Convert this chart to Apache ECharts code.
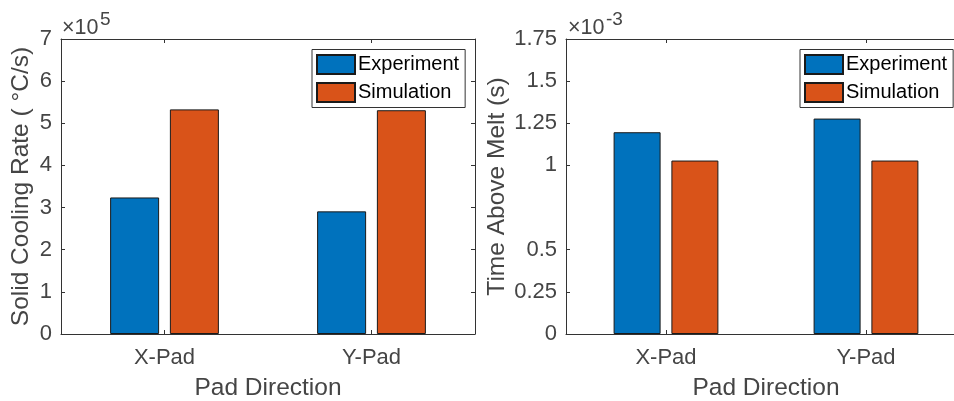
<!DOCTYPE html>
<html>
<head>
<meta charset="utf-8">
<title>Pad direction comparison</title>
<script src="https://cdn.jsdelivr.net/npm/echarts@6/dist/echarts.min.js"></script>
<style>
  html, body { margin: 0; padding: 0; background: #ffffff; }
  #chart { width: 954px; height: 401px; }
</style>
</head>
<body>
<div id="chart"></div>
<script>
// Pad directions on the x axis
const categories = ['X-Pad', 'Y-Pad'];
const seriesNames = ['Experiment', 'Simulation'];

// Solid cooling rate, in units of 1e5 °C/s
const coolingExperiment = [3.24, 2.91];
const coolingSimulation = [5.33, 5.31];
const coolingTicks = [0, 1, 2, 3, 4, 5, 6, 7];

// Time above melt, in units of 1e-3 s
const meltExperiment = [1.197, 1.278];
const meltSimulation = [1.029, 1.029];
const meltTicks = [0, 0.25, 0.5, 1, 1.25, 1.5, 1.75];

const FONT = '"Liberation Sans", Arial, Helvetica, sans-serif';
const AXIS_COLOR = '#333333';
const TEXT_COLOR = '#454545';
const BLUE = '#0072BD';
const ORANGE = '#D95319';

function fmtTick(v) {
  return String(+v.toFixed(2));
}

function bottomAxis(gridIndex) {
  return {
    type: 'category',
    gridIndex: gridIndex,
    position: 'bottom',
    data: categories,
    name: 'Pad Direction',
    nameLocation: 'middle',
    nameGap: 42,
    nameTextStyle: { fontFamily: FONT, fontSize: 24.5, color: TEXT_COLOR },
    axisLine: { show: true, onZero: false, lineStyle: { color: AXIS_COLOR, width: 1 } },
    axisTick: { show: true, inside: true, alignWithLabel: true, length: 4, lineStyle: { color: AXIS_COLOR } },
    axisLabel: { fontFamily: FONT, fontSize: 22, color: TEXT_COLOR, margin: 13 },
    splitLine: { show: false }
  };
}

function topAxis(gridIndex) {
  return {
    type: 'category',
    gridIndex: gridIndex,
    position: 'top',
    data: categories,
    axisLine: { show: true, onZero: false, lineStyle: { color: AXIS_COLOR, width: 1 } },
    axisTick: { show: true, inside: true, alignWithLabel: true, length: 4, lineStyle: { color: AXIS_COLOR } },
    axisLabel: { show: false },
    splitLine: { show: false }
  };
}

function valueAxis(gridIndex, position, ticks, max, interval, name, nameGap) {
  const ax = {
    type: 'value',
    gridIndex: gridIndex,
    position: position,
    min: 0,
    max: max,
    interval: interval,
    axisLine: { show: true, onZero: false, lineStyle: { color: AXIS_COLOR, width: 1 } },
    axisTick: { show: true, inside: true, length: 4, lineStyle: { color: AXIS_COLOR }, customValues: ticks },
    axisLabel: {
      show: position === 'left',
      fontFamily: FONT, fontSize: 22, color: TEXT_COLOR, margin: 9,
      customValues: ticks,
      formatter: fmtTick
    },
    splitLine: { show: false }
  };
  if (name) {
    ax.name = name;
    ax.nameLocation = 'middle';
    ax.nameGap = nameGap;
    ax.nameTextStyle = { fontFamily: FONT, fontSize: 24.5, color: TEXT_COLOR };
  }
  return ax;
}

function barSeries(name, color, xIdx, yIdx, data, width, gap) {
  return {
    name: name,
    type: 'bar',
    xAxisIndex: xIdx,
    yAxisIndex: yIdx,
    data: data,
    barWidth: width,
    barGap: gap,
    itemStyle: { color: color, borderColor: '#1a1a1a', borderWidth: 1 },
    emphasis: { disabled: true },
    animation: false
  };
}

function legendAt(left) {
  return {
    data: seriesNames,
    orient: 'vertical',
    left: left,
    top: 49.5,
    padding: [4.5, 6, 4.5, 4],
    itemWidth: 38,
    itemHeight: 19,
    itemGap: 7,
    icon: 'rect',
    selectedMode: false,
    backgroundColor: '#ffffff',
    borderColor: '#333333',
    borderWidth: 1,
    borderRadius: 0,
    textStyle: { fontFamily: FONT, fontSize: 20, color: '#000000', padding: [0, 0, 0, -2] }
  };
}

// "×10" multiplier with a raised exponent, written above each value axis
function exponentText(x, base, power) {
  return [
    { type: 'text', left: x, top: 17, style: { text: base, font: '21.5px ' + FONT, fill: TEXT_COLOR } },
    { type: 'text', left: x + 38, top: 10, style: { text: power, font: '19px ' + FONT, fill: TEXT_COLOR } }
  ];
}

const chart = echarts.init(document.getElementById('chart'), null, { renderer: 'canvas' });

chart.setOption({
  backgroundColor: '#ffffff',
  animation: false,
  grid: [
    { left: 61, top: 39, right: 479, bottom: 67, outerBoundsMode: 'none' },
    { left: 566, top: 39, right: -12, bottom: 67, outerBoundsMode: 'none' }
  ],
  xAxis: [bottomAxis(0), topAxis(0), bottomAxis(1), topAxis(1)],
  yAxis: [
    valueAxis(0, 'left', coolingTicks, 7, 1, 'Solid Cooling Rate ( °C/s)', 27),
    valueAxis(0, 'right', coolingTicks, 7, 1),
    valueAxis(1, 'left', meltTicks, 1.75, 0.25, 'Time Above Melt (s)', 56),
    valueAxis(1, 'right', meltTicks, 1.75, 0.25)
  ],
  legend: [legendAt(312), legendAt(800)],
  series: [
    barSeries(seriesNames[0], BLUE, 0, 0, coolingExperiment, 49, '22%'),
    barSeries(seriesNames[1], ORANGE, 0, 0, coolingSimulation, 49, '22%'),
    barSeries(seriesNames[0], BLUE, 2, 2, meltExperiment, 47, '23%'),
    barSeries(seriesNames[1], ORANGE, 2, 2, meltSimulation, 47, '23%')
  ],
  graphic: exponentText(62, '×10', '5').concat(exponentText(568, '×10', '-3'))
});
</script>
</body>
</html>
